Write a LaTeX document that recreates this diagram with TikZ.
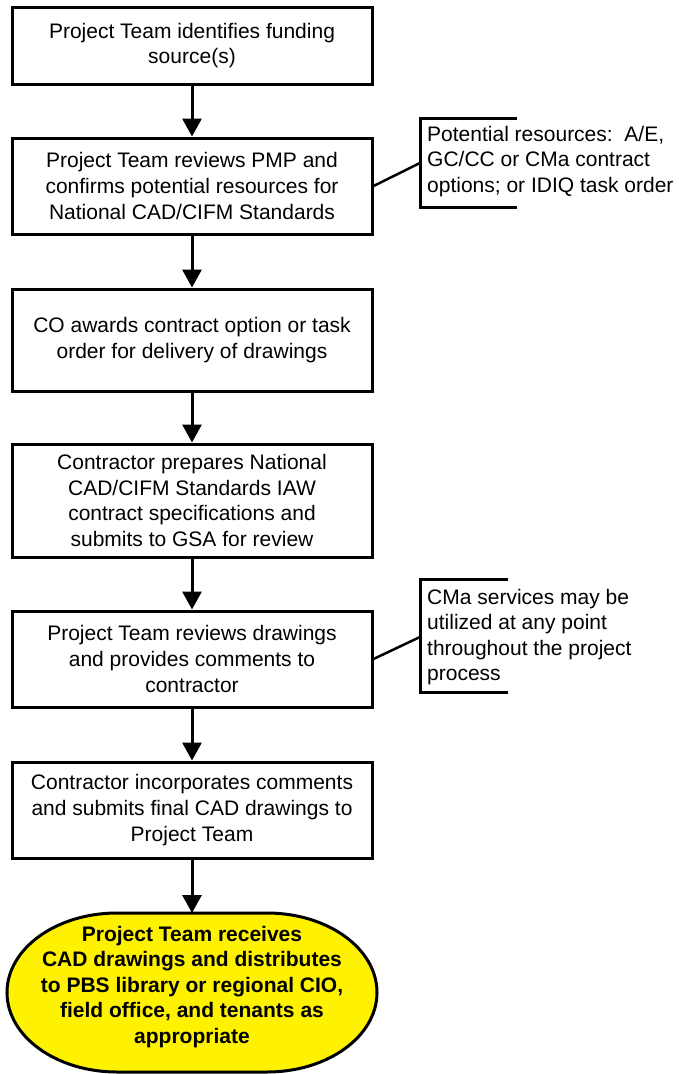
\documentclass[tikz,border=0pt]{standalone}
\usepackage{fontspec}
\setmainfont{Liberation Sans}
\usetikzlibrary{arrows.meta}
\begin{document}
\begin{tikzpicture}[x=1pt,y=1pt,
  box/.style={draw, line width=3pt, minimum width=360pt, align=center, inner sep=0pt, font=\fontsize{21}{25.7}\selectfont},
  arr/.style={line width=3pt, -{Triangle[width=19pt,length=18pt]}},
  note/.style={align=left, inner sep=0pt, anchor=north west, font=\fontsize{21}{25.5}\selectfont},
  brk/.style={line width=3pt},
  lead/.style={line width=2.5pt},
  endshape/.style={draw, fill=yellow, line width=3pt},
  endtext/.style={align=center, inner sep=0pt, font=\bfseries\fontsize{21}{25.5}\selectfont}]
\useasboundingbox (0,0) rectangle (678,-1074);

\node[box, minimum height=77pt] (b1) at (192,-45.5) {Project Team identifies funding\\source(s)};
\node[box, minimum height=96pt] (b2) at (192,-186) {Project Team reviews PMP and\\confirms potential resources for\\National CAD/CIFM Standards};
\node[box, minimum height=102pt] (b3) at (192,-340) {CO awards contract option or task\\order for delivery of drawings};
\node[box, minimum height=113pt] (b4) at (192,-500.5) {Contractor prepares National\\CAD/CIFM Standards IAW\\contract specifications and\\submits to GSA for review};
\node[box, minimum height=96pt] (b5) at (192,-659) {Project Team reviews drawings\\and provides comments to\\contractor};
\node[box, minimum height=96pt] (b6) at (192,-810) {Contractor incorporates comments\\and submits final CAD drawings to\\Project Team};

% terminal shape
\path[endshape] (117,-913) -- (267,-913)
  arc[start angle=90,end angle=0,x radius=110pt,y radius=79.5pt]
  arc[start angle=0,end angle=-90,x radius=110pt,y radius=79.5pt]
  -- (117,-1072)
  arc[start angle=270,end angle=180,x radius=110pt,y radius=79.5pt]
  arc[start angle=180,end angle=90,x radius=110pt,y radius=79.5pt]
  -- cycle;
\coordinate (etop) at (192,-913);
\node[endtext] (end) at (192,-987) {Project Team receives\\CAD drawings and distributes\\to PBS library or regional CIO,\\field office, and tenants as\\appropriate};

% arrows
\draw[arr] (b1.south) -- (b2.north);
\draw[arr] (b2.south) -- (b3.north);
\draw[arr] (b3.south) -- (b4.north);
\draw[arr] (b4.south) -- (b5.north);
\draw[arr] (b5.south) -- (b6.north);
\draw[arr] (b6.south) -- (etop);

% annotation 1
\draw[brk] (517,-118) -- (420,-118) -- (420,-207) -- (517,-207);
\coordinate (n1) at (420,-163);
\draw[lead] (b2.east) -- (n1);
\node[note] (t1) at (427,-126) {Potential resources:\ \ A/E,\\GC/CC or CMa contract\\options; or IDIQ task order};

% annotation 2
\draw[brk] (508,-579) -- (420,-579) -- (420,-692) -- (508,-692);
\coordinate (n2) at (420,-637);
\draw[lead] (b5.east) -- (n2);
\node[note] (t2) at (427,-589) {CMa services may be\\utilized at any point\\throughout the project\\process};
\end{tikzpicture}
\end{document}
